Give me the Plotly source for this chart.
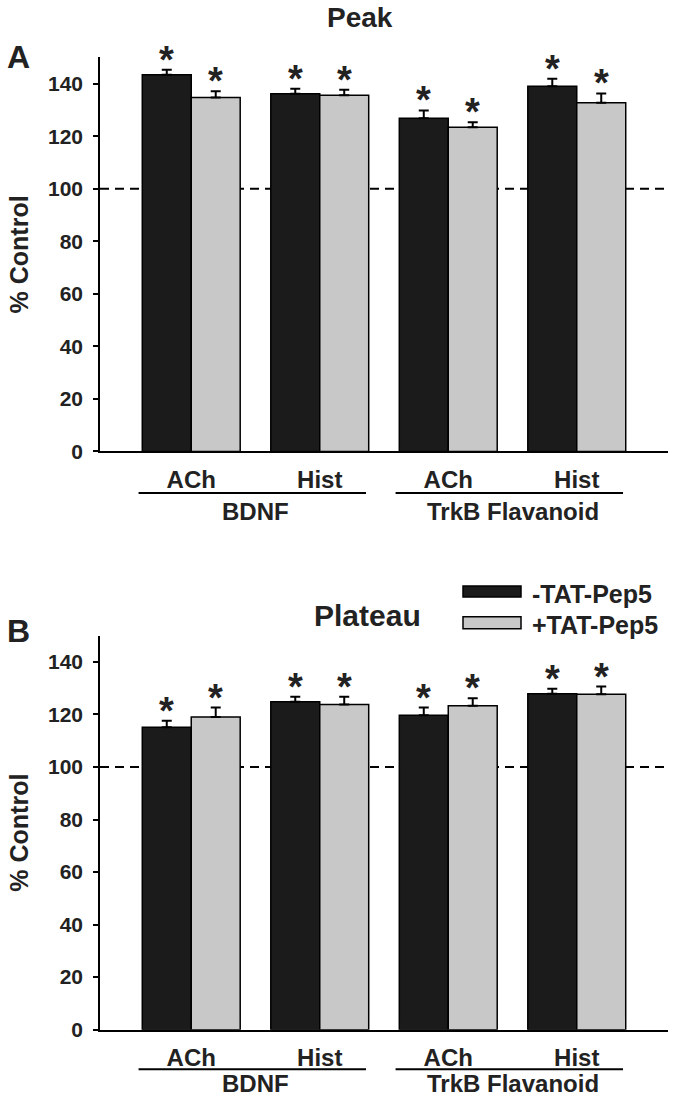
import plotly.graph_objects as go

# ---------------- data ----------------
categories = ["BDNF ACh", "BDNF Hist", "TrkB ACh", "TrkB Hist"]
tick_labels = ["ACh", "Hist", "ACh", "Hist"]
groups = ["BDNF", "TrkB Flavanoid"]
series_names = ["-TAT-Pep5", "+TAT-Pep5"]

peak_minus = [143.4, 136.2, 126.8, 139.0]
peak_minus_err = [1.9, 1.9, 3.0, 2.9]
peak_plus = [134.7, 135.6, 123.4, 132.7]
peak_plus_err = [2.4, 2.1, 1.9, 3.6]

plateau_minus = [115.1, 124.8, 119.7, 127.9]
plateau_minus_err = [2.5, 1.9, 2.9, 1.9]
plateau_plus = [119.0, 123.8, 123.3, 127.7]
plateau_plus_err = [3.6, 2.9, 2.9, 2.9]

y_ticks = [0, 20, 40, 60, 80, 100, 120, 140]
panel_titles = ["Peak", "Plateau"]
panel_letters = ["A", "B"]

# ---------------- style ----------------
W, H = 675, 1108
FONT = "Liberation Sans, Arial, sans-serif"
BLACK = "#1b1b1b"
GRAY = "#c8c8c8"
TXT = "#222"
colors = [BLACK, GRAY]

def py(px):
    return 1 - px / H

def pxx(px):
    return px / W

fig = go.Figure()

panels = [
    (peak_minus, peak_minus_err, peak_plus, peak_plus_err),
    (plateau_minus, plateau_minus_err, plateau_plus, plateau_plus_err),
]
axis_ids = [("x", "y"), ("x2", "y2")]

for p, (m, me, pl, ple) in enumerate(panels):
    xa, ya = axis_ids[p]
    for s, (vals, errs) in enumerate([(m, me), (pl, ple)]):
        fig.add_trace(go.Bar(
            x=categories, y=vals, name=series_names[s],
            marker=dict(color=colors[s], line=dict(color="black", width=1.5)),
            error_y=dict(type="data", array=errs, arrayminus=[0] * len(errs),
                         symmetric=False, color="black", thickness=2, width=5),
            xaxis=xa, yaxis=ya, showlegend=False, offsetgroup=str(s),
        ))

domains_y = [[py(456), py(58)], [py(1040), py(642)]]
xrange = [-0.71, 3.71]

axis_common_x = dict(
    range=xrange, showline=True, linecolor="black", linewidth=1.5,
    ticks="", tickvals=categories, ticktext=tick_labels,
    tickfont=dict(family=FONT, size=24, color=TXT, weight="bold"),
    ticklabelstandoff=6, showgrid=False, zeroline=False, fixedrange=True,
)
axis_common_y = dict(
    range=[0, 150], showline=True, linecolor="black", linewidth=1.5,
    ticks="outside", ticklen=5, tickwidth=1.5, tickcolor="black",
    tickvals=y_ticks,
    tickfont=dict(family=FONT, size=21, color=TXT, weight="bold"),
    ticklabelstandoff=6, showgrid=False, zeroline=False, fixedrange=True,
)

fig.update_layout(
    width=W, height=H, margin=dict(l=0, r=0, t=0, b=0),
    paper_bgcolor="white", plot_bgcolor="white",
    barmode="group", bargap=0.238, bargroupgap=0,
    xaxis=dict(domain=[pxx(100), pxx(668)], anchor="y", **axis_common_x),
    yaxis=dict(domain=domains_y[0], anchor="x", **axis_common_y),
    xaxis2=dict(domain=[pxx(100), pxx(668)], anchor="y2", **axis_common_x),
    yaxis2=dict(domain=domains_y[1], anchor="x2", **axis_common_y),
)

annotations = []
shapes = []
label_font = dict(family=FONT, size=24, color=TXT, weight="bold")

for p in range(2):
    xa, ya = axis_ids[p]
    m, me, pl, ple = panels[p]
    # dashed 100% line
    shapes.append(dict(type="line", xref=f"{xa} domain", yref=ya,
                       x0=0, x1=1, y0=100, y1=100, layer="below",
                       line=dict(color="black", width=2, dash="9px,6px")))
    # significance stars
    for i in range(len(categories)):
        for s, (vals, errs) in enumerate([(m, me), (pl, ple)]):
            annotations.append(dict(
                x=i + (-0.19 if s == 0 else 0.19), y=vals[i] + errs[i],
                xref=xa, yref=ya, text="*", showarrow=False,
                yanchor="bottom", yshift=-13,
                font=dict(family=FONT, size=38, color=TXT, weight="bold")))
    # group underline and labels
    axis_zero_px = 456 if p == 0 else 1040
    under_px = axis_zero_px + (42 if p == 0 else 40)
    grp_px = axis_zero_px + (61 if p == 0 else 54)
    for g, name in enumerate(groups):
        base = 2 * g
        shapes.append(dict(type="line", xref=xa, yref="paper",
                           x0=base - 0.41, x1=base + 1.36,
                           y0=py(under_px), y1=py(under_px),
                           line=dict(color="black", width=2)))
        annotations.append(dict(x=base + 0.5, y=py(grp_px), xref=xa, yref="paper",
                                text=name, showarrow=False, xanchor="center",
                                yanchor="middle", font=label_font))

# panel titles and letters
annotations.append(dict(x=pxx(360), y=py(18), xref="paper", yref="paper",
                        text=panel_titles[0], showarrow=False, xanchor="center",
                        yanchor="middle",
                        font=dict(family=FONT, size=28, color=TXT, weight="bold")))
annotations.append(dict(x=pxx(367), y=py(622), xref="paper", yref="paper",
                        text=panel_titles[1], showarrow=False, xanchor="center",
                        yanchor="middle",
                        font=dict(family=FONT, size=30, color=TXT, weight="bold")))
annotations.append(dict(x=pxx(18), y=py(58), xref="paper", yref="paper",
                        text=panel_letters[0], showarrow=False, xanchor="center",
                        yanchor="middle",
                        font=dict(family=FONT, size=32, color=TXT, weight="bold")))
annotations.append(dict(x=pxx(18), y=py(637), xref="paper", yref="paper",
                        text=panel_letters[1], showarrow=False, xanchor="center",
                        yanchor="middle",
                        font=dict(family=FONT, size=32, color=TXT, weight="bold")))

# y-axis titles
for cy in (257, 841):
    annotations.append(dict(x=pxx(19), y=py(cy), xref="paper", yref="paper",
                            text="% Control", textangle=-90, showarrow=False,
                            xanchor="center", yanchor="middle",
                            font=dict(family=FONT, size=25, color=TXT, weight="bold")))

# legend (drawn)
leg_rows = [(592, 603), (623, 635)]
for s, (t, b) in enumerate(leg_rows):
    shapes.append(dict(type="rect", xref="paper", yref="paper",
                       x0=pxx(463), x1=pxx(521), y0=py(b), y1=py(t),
                       fillcolor=colors[s], line=dict(color="black", width=1.5)))
    annotations.append(dict(x=pxx(530), y=py((t + b) / 2 + 2), xref="paper", yref="paper",
                            text=series_names[s], showarrow=False, xanchor="left",
                            yanchor="middle",
                            font=dict(family=FONT, size=25, color=TXT, weight="bold")))

fig.update_layout(annotations=annotations, shapes=shapes)
fig.write_html("out.html",
               config={"displayModeBar": False},
               post_script="document.body.style.margin='0';document.body.style.overflow='hidden';")
